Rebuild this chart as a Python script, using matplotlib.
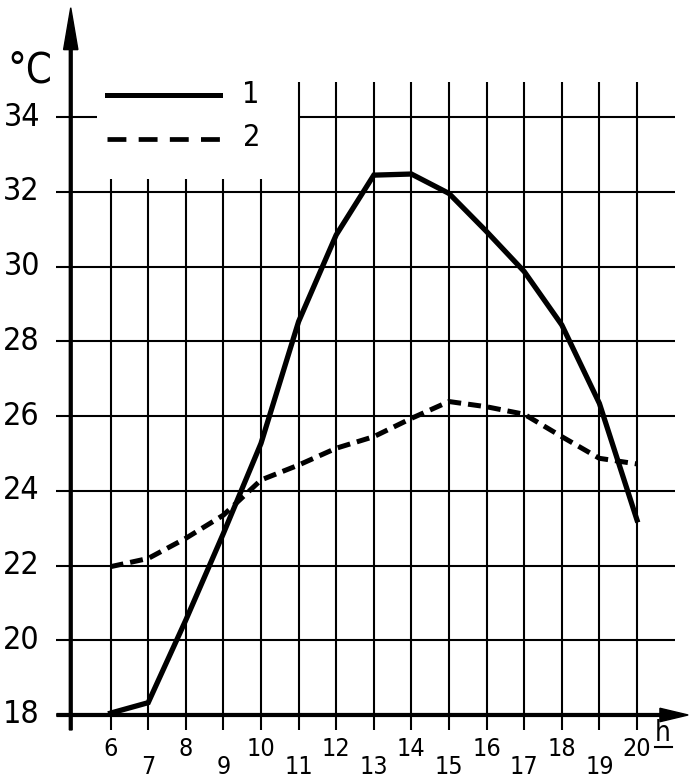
import matplotlib
matplotlib.use("Agg")
import matplotlib.pyplot as plt

plt.rcParams['font.family'] = ['DejaVu Sans']
plt.rcParams['font.stretch'] = 'condensed'

# hours of the day and temperatures (deg C) for the two curves
hours = list(range(6, 21))
temp1 = [18.05, 18.33, 20.54, 22.86, 25.27, 28.53, 30.85, 32.45, 32.48,
         31.96, 30.94, 29.87, 28.44, 26.34, 23.22]
temp2 = [21.97, 22.19, 22.73, 23.35, 24.29, 24.69, 25.14, 25.45, 25.94,
         26.39, 26.25, 26.05, 25.45, 24.87, 24.72]
y_ticks = [18, 20, 22, 24, 26, 28, 30, 32, 34]
series_labels = ['1', '2']

fig = plt.figure(figsize=(6.89, 7.81), dpi=100)
ax = fig.add_axes([0, 0, 1, 1])
ax.set_xlim(3.0585, 21.383)
ax.set_ylim(16.233, 37.138)
ax.axis('off')

grid_lw = 1.5
# grid: lines left of hour 11 stop below the legend box
tops = [32.34 if h <= 10 else 34.93 for h in hours]
ax.vlines(hours, 17.6, tops, color='k', lw=grid_lw)
for t in y_ticks[1:]:
    if t == 34:
        ax.hlines(t, 4.55, 5.64, color='k', lw=grid_lw)
        ax.hlines(t, 11, 21.0, color='k', lw=grid_lw)
    else:
        ax.hlines(t, 4.55, 21.0, color='k', lw=grid_lw)

# axes with arrow heads
ax.arrow(4.94, 17.6, 0, 36.93 - 17.6, width=0.075, head_width=0.38,
         head_length=1.12, length_includes_head=True, fc='k', ec='k')
ax.arrow(4.57, 18, 21.36 - 4.57, 0, width=0.075, head_width=0.36,
         head_length=0.75, length_includes_head=True, fc='k', ec='k')

# data curves
ax.plot(hours, temp1, color='k', lw=3.8, solid_joinstyle='miter')
ax.plot(hours, temp2, color='k', lw=3.6, dashes=(2.6, 1.4))

# legend
ax.plot([5.9, 8.9], [34.6, 34.6], color='k', lw=3.6)
ax.plot([5.9, 8.9], [33.42, 33.42], color='k', lw=3.4, dashes=(4, 2.6))
ax.text(9.72, 34.6, series_labels[0], fontsize=22, ha='center', va='center')
ax.text(9.76, 33.45, series_labels[1], fontsize=22, ha='center', va='center')

# tick labels, odd hours set lower
for t in y_ticks:
    ax.text(4.12, t, str(t), fontsize=23, ha='right', va='center')
for h in hours:
    yy = 17.09 if h % 2 == 0 else 16.6
    ax.text(h, yy, str(h), fontsize=18, ha='center', va='center')

# axis titles
ax.text(3.86, 35.26, '°C', fontsize=30, ha='center', va='center')
ax.text(20.67, 17.52, 'h', fontsize=20, ha='center', va='center')
ax.plot([20.48, 20.93], [17.14, 17.14], color='k', lw=1.5)

fig.savefig('out.png', dpi=100)
